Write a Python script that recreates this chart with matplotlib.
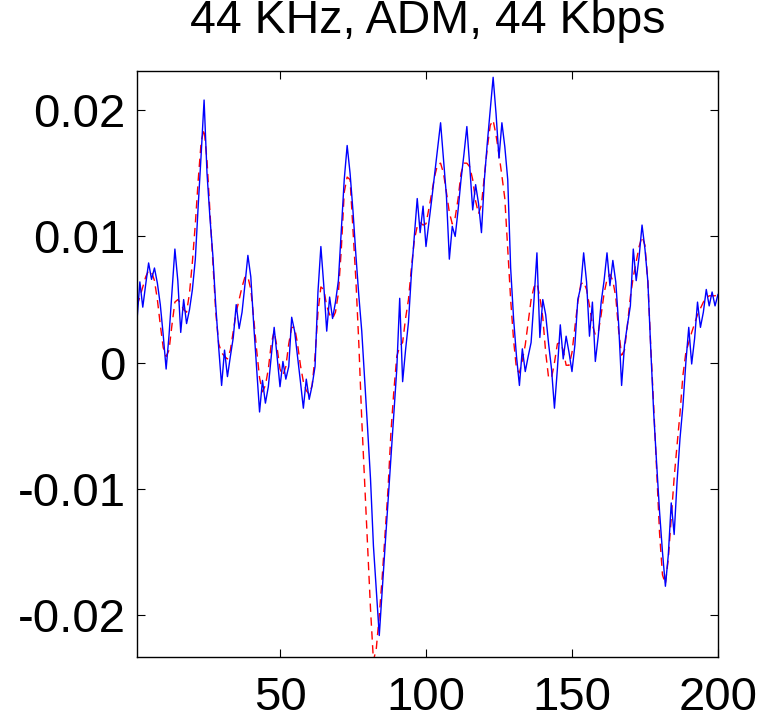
import numpy as np
import matplotlib
matplotlib.use("Agg")
import matplotlib.pyplot as plt

# sample index 1..200
n_samples = 200

# ADM reconstruction (blue, solid)
adm_out = [
    0.0033, 0.0064, 0.0044, 0.0062, 0.0079, 0.0066, 0.0075, 0.0063, 0.0046, 0.0022,
    -0.0005, 0.0022, 0.0056, 0.0090, 0.0065, 0.0024, 0.0050, 0.0031, 0.0042, 0.0058,
    0.0082, 0.0125, 0.0165, 0.0208, 0.0150, 0.0115, 0.0085, 0.0045, 0.0012, -0.0018,
    0.0010, -0.0011, 0.0005, 0.0020, 0.0046, 0.0027, 0.0040, 0.0062, 0.0085, 0.0068,
    0.0030, -0.0005, -0.0039, -0.0014, -0.0032, -0.0019, 0.0005, 0.0028, 0.0005, -0.0019,
    0.0001, -0.0013, -0.0003, 0.0036, 0.0025, 0.0005, -0.0015, -0.0036, -0.0013, -0.0029,
    -0.0018, -0.0003, 0.0056, 0.0092, 0.0061, 0.0025, 0.0052, 0.0035, 0.0048, 0.0065,
    0.0105, 0.0145, 0.0172, 0.0150, 0.0120, 0.0085, 0.0053, 0.0025, -0.0013, -0.0052,
    -0.0092, -0.0145, -0.0180, -0.0216, -0.0180, -0.0145, -0.0110, -0.0075, -0.0040, -0.0005,
    0.0051, -0.0015, 0.0010, 0.0032, 0.0070, 0.0100, 0.0130, 0.0103, 0.0124, 0.0092,
    0.0111, 0.0130, 0.0150, 0.0170, 0.0190, 0.0161, 0.0132, 0.0082, 0.0108, 0.0100,
    0.0121, 0.0145, 0.0165, 0.0187, 0.0155, 0.0121, 0.0141, 0.0126, 0.0103, 0.0145,
    0.0174, 0.0200, 0.0226, 0.0197, 0.0162, 0.0190, 0.0171, 0.0145, 0.0075, 0.0035,
    0.0005, -0.0018, 0.0011, -0.0007, 0.0005, 0.0016, 0.0050, 0.0087, 0.0020, 0.0050,
    0.0038, 0.0015, -0.0005, -0.0036, -0.0005, 0.0030, 0.0003, 0.0021, 0.0008, -0.0007,
    0.0014, 0.0050, 0.0060, 0.0087, 0.0064, 0.0021, 0.0048, 0.0001, 0.0021, 0.0048,
    0.0065, 0.0087, 0.0061, 0.0081, 0.0064, 0.0030, -0.0018, 0.0014, 0.0030, 0.0045,
    0.0090, 0.0065, 0.0084, 0.0109, 0.0090, 0.0064, 0.0010, -0.0040, -0.0080, -0.0118,
    -0.0150, -0.0177, -0.0152, -0.0111, -0.0136, -0.0094, -0.0060, -0.0034, 0.0000, 0.0028,
    -0.0001, 0.0019, 0.0048, 0.0028, 0.0040, 0.0058, 0.0045, 0.0056, 0.0045, 0.0054,
]

# original signal (red, dashed)
original = [
    0.0045, 0.0052, 0.0060, 0.0068, 0.0073, 0.0072, 0.0065, 0.0050, 0.0030, 0.0012,
    0.0005, 0.0010, 0.0030, 0.0048, 0.0050, 0.0047, 0.0042, 0.0040, 0.0055, 0.0080,
    0.0110, 0.0145, 0.0175, 0.0185, 0.0160, 0.0120, 0.0080, 0.0040, 0.0015, 0.0008,
    0.0005, 0.0003, 0.0010, 0.0025, 0.0040, 0.0050, 0.0060, 0.0068, 0.0068, 0.0058,
    0.0035, 0.0010, -0.0012, -0.0023, -0.0018, -0.0005, 0.0015, 0.0025, 0.0012, -0.0005,
    -0.0010, -0.0003, 0.0015, 0.0028, 0.0028, 0.0015, -0.0002, -0.0015, -0.0022, -0.0025,
    -0.0018, 0.0005, 0.0040, 0.0060, 0.0058, 0.0045, 0.0038, 0.0035, 0.0040, 0.0055,
    0.0090, 0.0135, 0.0147, 0.0145, 0.0105, 0.0065, 0.0015, -0.0045, -0.0095, -0.0145,
    -0.0195, -0.0236, -0.0226, -0.0200, -0.0170, -0.0135, -0.0100, -0.0055, -0.0022, 0.0005,
    0.0013, 0.0016, 0.0035, 0.0050, 0.0075, 0.0097, 0.0108, 0.0111, 0.0109, 0.0110,
    0.0122, 0.0135, 0.0148, 0.0157, 0.0158, 0.0150, 0.0135, 0.0119, 0.0110, 0.0115,
    0.0130, 0.0150, 0.0158, 0.0158, 0.0155, 0.0145, 0.0128, 0.0118, 0.0125, 0.0148,
    0.0170, 0.0188, 0.0192, 0.0180, 0.0165, 0.0148, 0.0130, 0.0090, 0.0050, 0.0018,
    -0.0005, -0.0008, 0.0002, 0.0014, 0.0032, 0.0050, 0.0060, 0.0063, 0.0052, 0.0036,
    0.0008, -0.0012, -0.0012, 0.0000, 0.0015, 0.0016, 0.0010, -0.0002, -0.0002, 0.0008,
    0.0028, 0.0048, 0.0062, 0.0064, 0.0058, 0.0045, 0.0030, 0.0022, 0.0024, 0.0038,
    0.0055, 0.0066, 0.0070, 0.0065, 0.0052, 0.0025, 0.0006, 0.0010, 0.0030, 0.0052,
    0.0068, 0.0080, 0.0092, 0.0100, 0.0093, 0.0064, 0.0012, -0.0035, -0.0085, -0.0135,
    -0.0168, -0.0175, -0.0155, -0.0123, -0.0091, -0.0065, -0.0040, -0.0010, 0.0008, 0.0016,
    0.0024, 0.0031, 0.0038, 0.0043, 0.0048, 0.0051, 0.0053, 0.0053, 0.0053, 0.0054,
]

x_ticks = [50, 100, 150, 200]
y_ticks = [-0.02, -0.01, 0, 0.01, 0.02]
y_labels = ["-0.02", "-0.01", "0", "0.01", "0.02"]
title = "44 KHz, ADM, 44 Kbps"

plt.rcParams["font.family"] = ["Liberation Sans", "DejaVu Sans"]

fig = plt.figure(figsize=(7.65, 7.17), dpi=100)
ax = fig.add_axes([0.179, 0.0837, 0.7595, 0.8173])

x = np.arange(1, n_samples + 1)
ax.plot(x, original, color="red", linestyle="--", linewidth=1.0, dashes=(6, 4))
ax.plot(x, adm_out, color="blue", linewidth=1.0)

ax.set_xlim(1, 200)
ax.set_ylim(-0.0233, 0.0231)
ax.set_xticks(x_ticks)
ax.set_xticklabels([str(t) for t in x_ticks])
ax.set_yticks(y_ticks)
ax.set_yticklabels(y_labels)

ax.tick_params(direction="in", length=6, width=0.8, labelsize=34,
               top=True, right=True)
ax.tick_params(axis="x", pad=14)
ax.tick_params(axis="y", pad=8)
for s in ax.spines.values():
    s.set_linewidth(1.0)

ax.set_title(title, fontsize=33.5, pad=27)

fig.savefig("out.png", dpi=100)
